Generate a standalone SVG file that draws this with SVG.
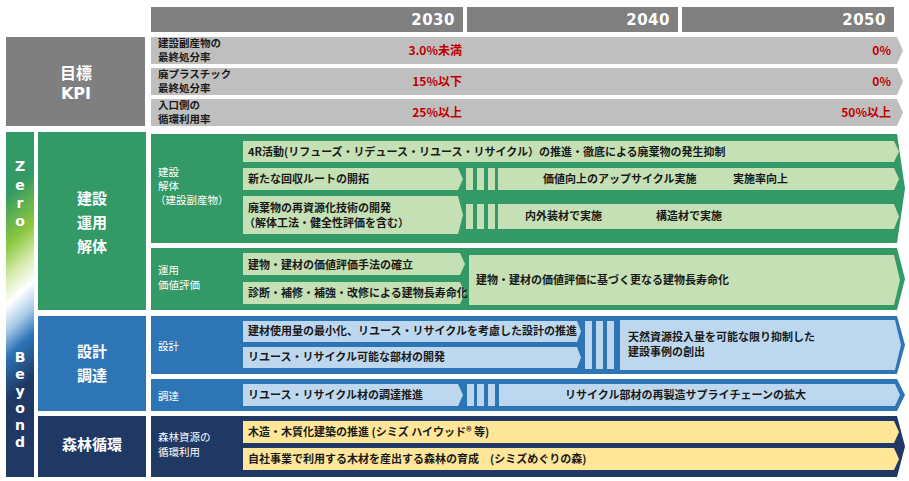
<svg xmlns="http://www.w3.org/2000/svg" width="909" height="481" viewBox="0 0 909 481">
<defs>
<linearGradient id="zb" gradientUnits="userSpaceOnUse" x1="6" y1="132" x2="190" y2="336">
<stop offset="0" stop-color="#339966"/>
<stop offset="0.17" stop-color="#339966"/>
<stop offset="0.31" stop-color="#8cc63f"/>
<stop offset="0.40" stop-color="#d8ecb0"/>
<stop offset="0.47" stop-color="#ffffff"/>
<stop offset="0.54" stop-color="#a9cbe8"/>
<stop offset="0.61" stop-color="#2e75b6"/>
<stop offset="0.73" stop-color="#1f3864"/>
<stop offset="1" stop-color="#1f3864"/>
</linearGradient>
<style>
.hdr{fill:#808080}
.yr{font-family:"DejaVu Sans",sans-serif;font-weight:bold;font-size:15px;fill:#fff;text-anchor:end;letter-spacing:0.5px}
.kpi{fill:#bfbfbf}
.t{font-family:"Noto Sans CJK JP",sans-serif;font-weight:bold;font-size:11px;fill:#1a1a1a}
.s{font-family:"Noto Sans CJK JP",sans-serif;font-weight:bold;font-size:10.5px;fill:#1a1a1a}
.red{font-family:"Noto Sans CJK JP",sans-serif;font-weight:bold;font-size:12px;fill:#c00000;text-anchor:end}
.w{font-family:"Noto Sans CJK JP",sans-serif;font-size:10.5px;fill:#fff}
.cat{font-family:"Noto Sans CJK JP",sans-serif;font-weight:bold;font-size:15px;fill:#fff;text-anchor:middle}
.zb{font-family:"DejaVu Sans",sans-serif;font-weight:bold;font-size:14px;fill:#fff;text-anchor:middle}
.g{fill:#339966}.lg{fill:#c5e0b4}.b{fill:#2e75b6}.lb{fill:#bdd7ee}.n{fill:#1f3864}.y{fill:#ffe699}
</style>
</defs>
<rect width="909" height="481" fill="#fff"/>

<g id="header">
<rect class="hdr" x="151" y="7" width="312" height="25"/>
<rect class="hdr" x="467" y="7" width="211" height="25"/>
<rect class="hdr" x="682" y="7" width="212" height="25"/>
<text class="yr" x="455" y="25">2030</text>
<text class="yr" x="670" y="25">2040</text>
<text class="yr" x="886" y="25">2050</text>
</g>

<g id="kpi">
<rect x="6" y="37" width="139" height="89" fill="#7f7f7f"/>
<text class="cat" x="76" y="79" style="font-size:16px">目標</text>
<text class="cat" x="76" y="99" style="font-family:'DejaVu Sans',sans-serif;font-size:16px">KPI</text>
</g>
<g id="kpi-row1">
<polygon class="kpi" points="151,37 897,37 903,50.5 897,64 151,64"/>
<text class="s" x="158" y="47">建設副産物の</text>
<text class="s" x="158" y="61">最終処分率</text>
<text class="red" x="462" y="55">3.0%未満</text>
<text class="red" x="891" y="55">0%</text>
</g>
<g id="kpi-row2">
<polygon class="kpi" points="151,68 897,68 903,81.5 897,95 151,95"/>
<text class="s" x="158" y="78">廃プラスチック</text>
<text class="s" x="158" y="92">最終処分率</text>
<text class="red" x="462" y="86">15%以下</text>
<text class="red" x="891" y="86">0%</text>
</g>
<g id="kpi-row3">
<polygon class="kpi" points="151,99 897,99 903,112.5 897,126 151,126"/>
<text class="s" x="158" y="109">入口側の</text>
<text class="s" x="158" y="123">循環利用率</text>
<text class="red" x="462" y="117">25%以上</text>
<text class="red" x="891" y="117">50%以上</text>
</g>

<g id="zero-beyond">
<rect x="6" y="132" width="28" height="345" fill="url(#zb)"/>
<text class="zb" x="20" y="171">Z</text>
<text class="zb" x="20" y="190">e</text>
<text class="zb" x="20" y="208">r</text>
<text class="zb" x="20" y="226">o</text>
<text class="zb" x="20" y="362">B</text>
<text class="zb" x="20" y="379">e</text>
<text class="zb" x="20" y="396">y</text>
<text class="zb" x="20" y="413">o</text>
<text class="zb" x="20" y="430">n</text>
<text class="zb" x="20" y="447">d</text>
</g>

<g id="cat-build">
<rect class="g" x="38" y="132" width="108" height="178"/>
<text class="cat" x="92" y="204">建設</text>
<text class="cat" x="92" y="228">運用</text>
<text class="cat" x="92" y="252">解体</text>
</g>
<g id="cat-design">
<rect class="b" x="38" y="316" width="108" height="95"/>
<text class="cat" x="92" y="357">設計</text>
<text class="cat" x="92" y="381">調達</text>
</g>
<g id="cat-forest">
<rect class="n" x="38" y="416" width="108" height="61"/>
<text class="cat" x="92" y="450">森林循環</text>
</g>

<g id="panel-demolition">
<polygon class="g" points="151,134 897,134 905,188.5 897,243 151,243"/>
<text class="w" x="158" y="176">建設</text>
<text class="w" x="158" y="190">解体</text>
<text class="w" x="155" y="204">（建設副産物）</text>
<polygon class="lg" points="243,141 894,141 899,151.5 894,162 243,162"/>
<text class="t" x="248" y="156">4R活動(リフューズ・リデュース・リユース・リサイクル）の推進・徹底による廃棄物の発生抑制</text>
<polygon class="lg" points="243,168 458,168 463,179 458,190 243,190"/>
<text class="t" x="248" y="183">新たな回収ルートの開拓</text>
<rect class="lg" x="466" y="168" width="7" height="22"/>
<rect class="lg" x="477" y="168" width="7" height="22"/>
<rect class="lg" x="488" y="168" width="7" height="22"/>
<polygon class="lg" points="498,168 894,168 899,179 894,190 498,190"/>
<text class="t" x="543" y="183">価値向上のアップサイクル実施</text>
<text class="t" x="733" y="183">実施率向上</text>
<polygon class="lg" points="243,196 458,196 463,215 458,234 243,234"/>
<text class="t" x="248" y="212">廃棄物の再資源化技術の開発</text>
<text class="t" x="244" y="227">（解体工法・健全性評価を含む）</text>
<rect class="lg" x="466" y="204" width="7" height="25"/>
<rect class="lg" x="477" y="204" width="7" height="25"/>
<rect class="lg" x="488" y="204" width="7" height="25"/>
<polygon class="lg" points="498,204 894,204 899,216.5 894,229 498,229"/>
<text class="t" x="525" y="220">内外装材で実施</text>
<text class="t" x="656" y="220">構造材で実施</text>
</g>

<g id="panel-operation">
<polygon class="g" points="151,248 897,248 905,279 897,310 151,310"/>
<text class="w" x="158" y="274">運用</text>
<text class="w" x="158" y="289">価値評価</text>
<polygon class="lg" points="243,253 460,253 465,264 460,275 243,275"/>
<text class="t" x="248" y="269">建物・建材の価値評価手法の確立</text>
<polygon class="lg" points="243,282 460,282 465,293 460,304 243,304"/>
<text class="t" x="248" y="297">診断・補修・補強・改修による建物長寿命化</text>
<polygon class="lg" points="469,255 894,255 900,280 894,305 469,305"/>
<text class="t" x="476" y="284">建物・建材の価値評価に基づく更なる建物長寿命化</text>
</g>

<g id="panel-design">
<polygon class="b" points="151,316 897,316 905,345 897,374 151,374"/>
<text class="w" x="158" y="350">設計</text>
<polygon class="lb" points="243,321 577,321 581,331.5 577,342 243,342"/>
<text class="t" x="248" y="335">建材使用量の最小化、リユース・リサイクルを考慮した設計の推進</text>
<polygon class="lb" points="243,347 577,347 581,357.5 577,368 243,368"/>
<text class="t" x="248" y="361">リユース・リサイクル可能な部材の開発</text>
<rect class="lb" x="585" y="321" width="7" height="48"/>
<rect class="lb" x="596" y="321" width="7" height="48"/>
<rect class="lb" x="607" y="321" width="7" height="48"/>
<polygon class="lb" points="620,320 895,320 901,345 895,370 620,370"/>
<text class="t" x="628" y="341">天然資源投入量を可能な限り抑制した</text>
<text class="t" x="628" y="356">建設事例の創出</text>
</g>

<g id="panel-procurement">
<polygon class="b" points="151,379 897,379 905,395 897,411 151,411"/>
<text class="w" x="158" y="400">調達</text>
<polygon class="lb" points="243,384 458,384 463,395 458,406 243,406"/>
<text class="t" x="248" y="399">リユース・リサイクル材の調達推進</text>
<rect class="lb" x="467" y="384" width="7" height="22"/>
<rect class="lb" x="477" y="384" width="7" height="22"/>
<rect class="lb" x="488" y="384" width="7" height="22"/>
<polygon class="lb" points="499,384 895,384 900,395 895,406 499,406"/>
<text class="t" x="565" y="399">リサイクル部材の再製造サプライチェーンの拡大</text>
</g>

<g id="panel-forest">
<polygon class="n" points="151,416 897,416 905,446.5 897,477 151,477"/>
<text class="w" x="158" y="441">森林資源の</text>
<text class="w" x="158" y="456">循環利用</text>
<polygon class="y" points="243,421 894,421 899,432 894,443 243,443"/>
<text class="t" x="248" y="436">木造・木質化建築の推進  (シミズ ハイウッド® 等)</text>
<polygon class="y" points="243,448 894,448 899,459 894,470 243,470"/>
<text class="t" x="248" y="463">自社事業で利用する木材を産出する森林の育成　(シミズめぐりの森)</text>
</g>

<g id="connectors"/>
</svg>
